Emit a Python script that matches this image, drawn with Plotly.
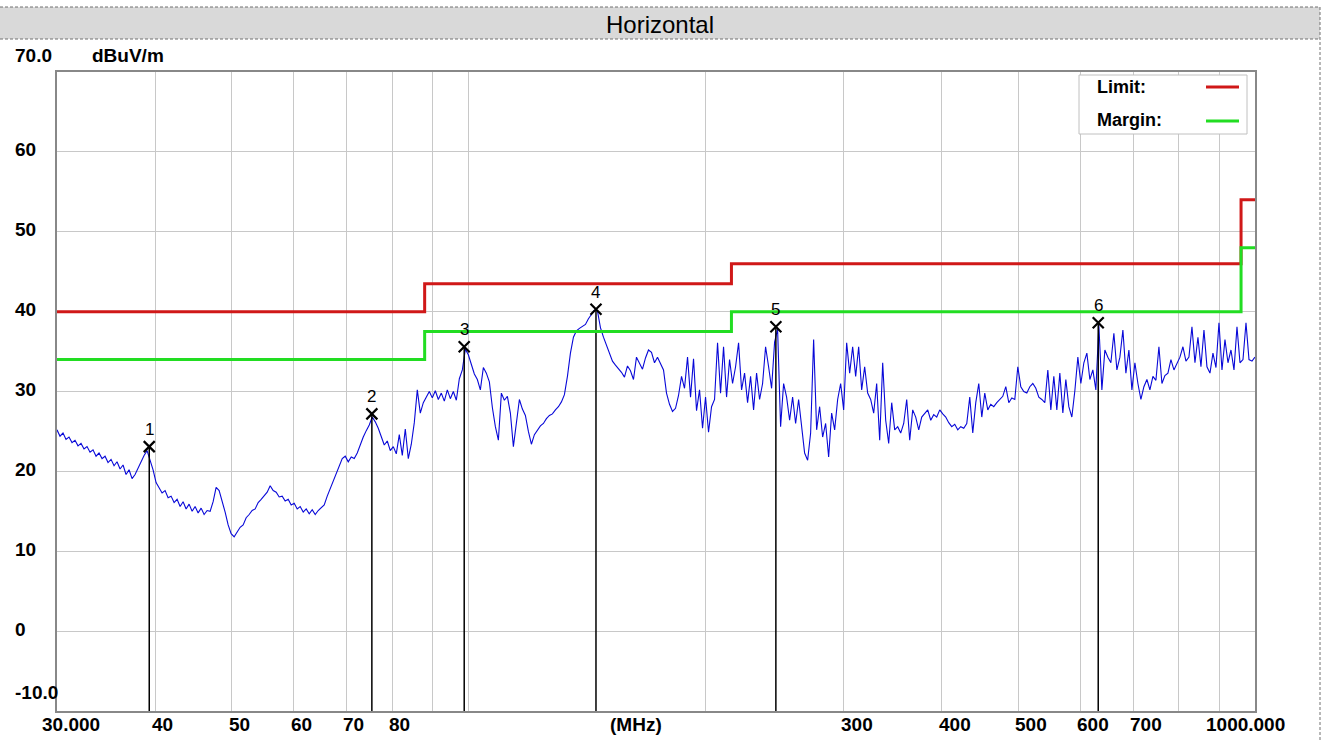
import math
import numpy as np
import plotly.graph_objects as go

# ---------------- data ----------------
level_dbuv = [
    25.2, 24.4, 24.8, 24.0, 24.3, 23.6, 23.9, 23.2, 23.5, 22.8,
    23.1, 22.4, 22.7, 21.9, 22.3, 21.6, 21.9, 21.1, 21.5, 20.7,
    21.2, 20.3, 20.8, 19.6, 20.2, 19.1, 19.6, 20.4, 21.3, 22.0,
    22.6, 21.4, 20.2, 18.6, 18.0, 17.3, 17.6, 16.7, 16.9, 16.1,
    16.5, 15.6, 16.2, 15.3, 15.9, 15.0, 15.6, 14.8, 15.4, 14.6,
    15.1, 15.0, 16.2, 18.0, 17.6, 16.4, 14.9, 13.3, 12.2, 11.8,
    12.4, 13.0, 13.3, 14.2, 14.6, 15.1, 15.3, 16.1, 16.5, 17.0,
    17.4, 18.2, 17.6, 17.4, 16.8, 16.9, 16.3, 16.5, 15.8, 16.0,
    15.3, 15.6, 14.9, 15.3, 14.7, 15.2, 14.6, 15.1, 15.4, 15.8,
    16.9, 17.8, 18.9, 19.8, 20.6, 21.6, 21.9, 21.2, 21.8, 21.6,
    22.3, 23.4, 24.3, 25.1, 25.8, 26.8, 26.2, 25.4, 24.3, 23.3,
    23.8, 22.6, 23.1, 22.2, 24.6, 22.0, 25.3, 21.6, 23.4, 26.1,
    30.2, 27.3, 28.6, 29.4, 30.0, 29.2, 30.1, 29.0, 29.8, 28.8,
    30.2, 29.1, 30.0, 28.9, 31.6, 32.7, 35.3, 34.6, 33.4, 32.2,
    31.5, 30.2, 33.0, 32.3, 31.2, 28.0, 25.6, 23.9, 29.8, 28.9,
    29.4, 27.3, 23.1, 26.4, 29.0, 27.8, 27.0, 25.0, 23.4, 24.6,
    25.2, 25.7, 26.0, 26.6, 27.0, 27.2, 27.7, 28.1, 28.7, 29.6,
    31.9, 34.8, 36.8, 37.6, 37.9, 38.1, 38.4, 39.1, 39.7, 40.2,
    40.1, 38.0, 36.8, 35.8, 34.6, 33.8, 33.3, 32.9, 32.4, 31.8,
    33.2, 32.6, 31.5, 34.3, 33.5, 32.8, 34.2, 35.2, 34.9, 33.6,
    34.3, 33.6, 32.7, 29.8, 28.4, 27.5, 27.9, 29.5, 31.9, 30.4,
    34.3, 29.3, 34.1, 27.6, 30.2, 25.4, 29.3, 24.9, 28.1, 29.0,
    36.1, 29.8, 35.6, 29.3, 34.0, 31.0, 33.1, 36.1, 30.2, 32.3,
    28.6, 31.9, 27.7, 32.3, 29.0, 31.0, 35.6, 33.1, 30.4, 36.2,
    37.8, 25.6, 31.0, 29.3, 26.4, 29.3, 26.0, 29.0, 25.6, 22.3,
    21.4, 24.8, 36.5, 25.2, 28.1, 24.3, 26.0, 21.8, 27.3, 25.2,
    29.0, 31.0, 27.7, 36.1, 32.3, 35.6, 31.9, 35.6, 30.2, 33.1,
    29.8, 29.0, 27.3, 31.0, 23.9, 33.6, 26.4, 23.5, 28.6, 25.2,
    25.6, 24.8, 26.0, 29.0, 23.9, 27.7, 26.8, 25.2, 26.8, 27.3,
    27.7, 26.4, 27.1, 26.8, 27.7, 27.2, 26.8, 26.1, 25.6, 25.9,
    25.2, 25.6, 25.4, 26.0, 29.3, 24.8, 28.6, 31.0, 26.8, 29.8,
    27.7, 28.4, 28.1, 28.6, 29.0, 29.4, 30.6, 28.6, 29.2, 29.0,
    33.1, 30.6, 30.0, 29.8, 30.6, 31.0, 30.4, 29.3, 29.0, 28.6,
    32.7, 27.7, 31.9, 27.7, 32.3, 27.3, 31.5, 28.1, 26.8, 30.1,
    34.3, 31.0, 33.6, 34.8, 31.5, 32.7, 30.2, 38.3, 30.2, 35.2,
    34.3, 33.6, 37.3, 32.7, 34.3, 37.7, 32.3, 35.2, 30.2, 33.6,
    31.0, 29.0, 30.6, 31.5, 30.2, 31.9, 31.4, 35.6, 31.0, 32.0,
    32.3, 34.0, 32.7, 33.6, 34.3, 35.6, 33.8, 34.3, 38.1, 33.6,
    36.8, 33.1, 37.7, 33.1, 32.3, 34.8, 33.0, 38.6, 32.7, 36.5,
    33.6, 35.2, 32.7, 38.1, 33.6, 34.0, 38.6, 34.0, 33.8, 34.3,
]
# sweep points of the receiver (log-spaced from 30 MHz to 1 GHz)
freq_mhz = np.geomspace(30.0, 1000.0, len(level_dbuv))

limit_freq = [30, 88, 216, 960, 1000]
limit_level = [40, 43.5, 46, 54, 54]
margin_level = [34, 37.5, 40, 48, 48]

marker_no = ["1", "2", "3", "4", "5", "6"]
marker_freq = [39.3, 75.4, 98.8, 145.3, 246.0, 632.0]
marker_level = [23.1, 27.2, 35.6, 40.3, 38.1, 38.6]

grid_freq = [40, 50, 60, 70, 80, 90, 100, 200, 300, 400, 500, 600, 700, 800, 900]
xlabel_freq = [30, 40, 50, 60, 70, 80, 300, 400, 500, 600, 700, 1000]
xlabel_text = ["30.000", "40", "50", "60", "70", "80", "300", "400", "500", "600", "700", "1000.000"]
ylabel_vals = [70, 60, 50, 40, 30, 20, 10, 0, -10]
ylabel_text = ["70.0", "60", "50", "40", "30", "20", "10", "0", "-10.0"]

# ---------------- layout geometry (pixels) ----------------
W, H = 1326, 740
PL, PR, PT, PB = 57, 1255, 72, 711
FONT = "Liberation Sans"


def px(xp):
    return (xp - PL) / (PR - PL)


def py(yp):
    return (PB - yp) / (PB - PT)


fig = go.Figure()

# spectrum trace
fig.add_trace(go.Scatter(x=freq_mhz, y=level_dbuv, mode="lines",
                         line=dict(color="#0808d8", width=1.1), hoverinfo="skip"))

# marker drop lines
mx, my = [], []
for f, v in zip(marker_freq, marker_level):
    mx += [f, f, None]
    my += [-10, v, None]
fig.add_trace(go.Scatter(x=mx, y=my, mode="lines",
                         line=dict(color="#000000", width=1.5), hoverinfo="skip"))
fig.add_trace(go.Scatter(x=marker_freq, y=marker_level, mode="markers",
                         marker=dict(symbol="x-thin", size=11,
                                     line=dict(color="#000000", width=2.2)),
                         hoverinfo="skip"))

# limit / margin
fig.add_trace(go.Scatter(x=limit_freq, y=limit_level, mode="lines", line_shape="hv",
                         line=dict(color="#d01818", width=3), hoverinfo="skip"))
fig.add_trace(go.Scatter(x=limit_freq, y=margin_level, mode="lines", line_shape="hv",
                         line=dict(color="#22dd22", width=3), hoverinfo="skip"))

annotations = []
# marker numbers
for n, f, v in zip(marker_no, marker_freq, marker_level):
    annotations.append(dict(x=math.log10(f), y=v, xref="x", yref="y", text=n,
                            showarrow=False, yshift=17,
                            font=dict(family=FONT, size=17, color="#000000")))
# y labels
for v, t in zip(ylabel_vals, ylabel_text):
    shift = 2
    if v == 70:
        shift = 17
    if v == -10:
        shift = 19
    annotations.append(dict(x=px(13), y=v, xref="paper", yref="y", text="<b>" + t + "</b>",
                            showarrow=False, xanchor="left", yanchor="middle", yshift=shift,
                            font=dict(family=FONT, size=19, color="#000000")))
annotations.append(dict(x=px(90), y=py(55), xref="paper", yref="paper", text="<b>dBuV/m</b>",
                        showarrow=False, xanchor="left", yanchor="middle",
                        font=dict(family=FONT, size=19, color="#000000")))
# x labels
for f, t in zip(xlabel_freq, xlabel_text):
    if f == 30:
        anc, sh = "left", -17
    elif f == 1000:
        anc, sh = "right", 32
    else:
        anc, sh = "left", -5
    annotations.append(dict(x=math.log10(f), y=py(724), xref="x", yref="paper",
                            text="<b>" + t + "</b>", showarrow=False, xanchor=anc,
                            yanchor="middle", xshift=sh,
                            font=dict(family=FONT, size=19, color="#000000")))
annotations.append(dict(x=px(608), y=py(724), xref="paper", yref="paper", text="<b>(MHz)</b>",
                        showarrow=False, xanchor="left", yanchor="middle",
                        font=dict(family=FONT, size=19, color="#000000")))
# title
annotations.append(dict(x=px(660), y=py(24), xref="paper", yref="paper", text="Horizontal",
                        showarrow=False, xanchor="center", yanchor="middle",
                        font=dict(family=FONT, size=24, color="#000000")))
# legend text
annotations.append(dict(x=px(1095), y=py(87), xref="paper", yref="paper", text="<b>Limit:</b>",
                        showarrow=False, xanchor="left", yanchor="middle",
                        font=dict(family=FONT, size=18, color="#000000")))
annotations.append(dict(x=px(1095), y=py(120), xref="paper", yref="paper", text="<b>Margin:</b>",
                        showarrow=False, xanchor="left", yanchor="middle",
                        font=dict(family=FONT, size=18, color="#000000")))

shapes = [
    # title band
    dict(type="rect", xref="paper", yref="paper", x0=px(0), x1=px(1320), y0=py(7), y1=py(39),
         fillcolor="#d9d9d9", line=dict(width=0), layer="below"),
    dict(type="line", xref="paper", yref="paper", x0=px(0), x1=px(1320), y0=py(7), y1=py(7),
         line=dict(color="#707070", width=1, dash="3px,2px")),
    dict(type="line", xref="paper", yref="paper", x0=px(0), x1=px(1320), y0=py(39), y1=py(39),
         line=dict(color="#707070", width=1, dash="3px,2px")),
    dict(type="line", xref="paper", yref="paper", x0=px(1320), x1=px(1320), y0=py(7), y1=py(740),
         line=dict(color="#707070", width=1, dash="3px,2px")),
    # legend box
    dict(type="rect", xref="paper", yref="paper", x0=px(1079), x1=px(1247), y0=py(75), y1=py(134),
         fillcolor="#ffffff", line=dict(color="#c0c0c0", width=1)),
    dict(type="line", xref="paper", yref="paper", x0=px(1206), x1=px(1239), y0=py(87), y1=py(87),
         line=dict(color="#d01818", width=3)),
    dict(type="line", xref="paper", yref="paper", x0=px(1206), x1=px(1239), y0=py(121), y1=py(121),
         line=dict(color="#22dd22", width=3)),
]

fig.update_layout(
    width=W, height=H, autosize=False,
    margin=dict(l=PL, r=W - PR, t=PT, b=H - PB, pad=0),
    paper_bgcolor="#ffffff", plot_bgcolor="#ffffff",
    showlegend=False,
    xaxis=dict(type="log", range=[math.log10(30), math.log10(1000)],
               tickvals=grid_freq, showticklabels=False, ticks="",
               showgrid=True, gridcolor="#c8c8c8", gridwidth=1, zeroline=False,
               showline=True, linecolor="#888888", linewidth=2, mirror=True),
    yaxis=dict(range=[-10, 70], tickvals=[0, 10, 20, 30, 40, 50, 60], showticklabels=False,
               ticks="", showgrid=True, gridcolor="#c8c8c8", gridwidth=1, zeroline=False,
               showline=True, linecolor="#888888", linewidth=2, mirror=True),
    annotations=annotations,
    shapes=shapes,
)

fig.write_html("out.html", config={"displayModeBar": False},
               post_script="document.body.style.margin='0';")
